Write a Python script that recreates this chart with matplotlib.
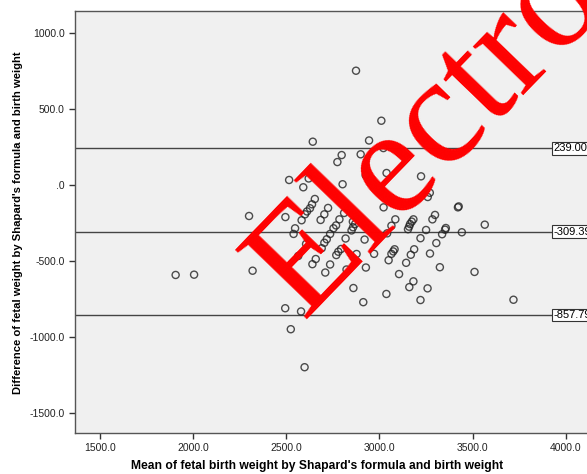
import matplotlib
matplotlib.use("Agg")
import matplotlib.pyplot as plt

# mean of the two methods (g) and their difference (g)
mean_wt = [2874, 3010, 2642, 2944, 3021, 2797, 2774, 2899, 3038, 2926,
           3223, 2515, 2620, 2591, 2802, 3270, 3259, 2653, 2638, 2627,
           2611, 2600, 2724, 2704, 2684, 2300, 2495, 2582, 2810, 2785,
           2767, 2753, 2735, 2717, 2704, 2690, 3022, 3421, 3425, 3298,
           3284, 3182, 3173, 3164, 3159, 3153, 3085, 2869, 2858, 2850,
           3250, 3356, 3352, 3336, 3442, 3565, 3064, 3041, 3220, 2920,
           3305, 2818, 2606, 2547, 2539, 2794, 2779, 2768, 2877, 2971,
           3081, 3074, 3064, 3049, 3186, 3168, 3271, 3143, 2564, 2658,
           2640, 2735, 2709, 2823, 2927, 3324, 3105, 2319, 3182, 3160,
           3510, 2860, 3258, 3037, 2913, 3220, 3719, 2494, 2579, 2524,
           2598, 1906, 2005, 2857]
diff_wt = [750, 421, 283, 291, 241, 195, 149, 200, 77, 62,
           55, 31, 41, -17, 3, -53, -81, -94, -129, -155,
           -176, -195, -153, -195, -232, -206, -213, -234, -186, -228,
           -268, -287, -324, -359, -382, -418, -149, -149, -143, -199,
           -228, -228, -243, -259, -276, -293, -228, -259, -280, -301,
           -298, -285, -296, -326, -313, -263, -270, -320, -352, -361,
           -384, -354, -390, -287, -324, -423, -441, -463, -456, -455,
           -425, -439, -455, -497, -425, -461, -453, -514, -469, -489,
           -523, -525, -578, -558, -545, -543, -588, -566, -636, -674,
           -574, -680, -682, -719, -773, -759, -757, -813, -834, -951,
           -1201, -594, -592, -243]

# mean difference and 95% limits of agreement
ref_lines = [239.007, -309.393, -857.793]
ref_labels = ["239.007", "-309.393", "-857.793"]

x_ticks = [1500, 2000, 2500, 3000, 3500, 4000]
y_ticks = [1000, 500, 0, -500, -1000, -1500]
y_tick_labels = ["1000.0", "500.0", ".0", "-500.0", "-1000.0", "-1500.0"]
x_tick_labels = ["1500.0", "2000.0", "2500.0", "3000.0", "3500.0", "4000.0"]

plt.rcParams['font.family'] = ['Liberation Sans', 'DejaVu Sans']

fig = plt.figure(figsize=(5.87, 4.74), dpi=100)
# axes runs off the right edge, like the cropped original
ax = fig.add_axes([0.1278, 0.0871, 0.9285, 0.8897])
ax.set_facecolor('#f0f0f0')

ax.scatter(mean_wt, diff_wt, s=26, facecolors='none', edgecolors='#222222',
           linewidths=1.0, alpha=0.8, zorder=3)

for val, lab in zip(ref_lines, ref_labels):
    ax.axhline(val, color='#444444', lw=1.0, zorder=2)
    ax.text(3935, val, lab, fontsize=8, ha='left', va='center', zorder=4,
            clip_on=False,
            bbox=dict(boxstyle='square,pad=0.12', fc='white', ec='#333333', lw=0.8))

ax.set_xlim(1366, 4291)
ax.set_ylim(-1632, 1143)
ax.set_xticks(x_ticks)
ax.set_xticklabels(x_tick_labels)
ax.set_yticks(y_ticks)
ax.set_yticklabels(y_tick_labels)
ax.tick_params(direction='out', length=4, width=1, labelsize=7.5,
               colors='#333333', labelcolor='#222222')
for sp in ax.spines.values():
    sp.set_color('#555555')
    sp.set_linewidth(1.0)

ax.set_xlabel("Mean of fetal birth weight by Shapard's formula and birth weight",
              fontsize=8.7, fontweight='bold')
ax.set_ylabel("Difference of fetal weight by Shapard's formula and birth weight",
              fontsize=8.1, fontweight='bold')
ax.xaxis.set_label_coords((317 - 75) / 545, -(460 - 432.7) / 421.7)
ax.yaxis.set_label_coords(-(75 - 23) / 545, 1 - (223 - 11) / 421.7)

# red watermark over the plot
fig.text(303 / 587, 1 - 319 / 474, "Electronic", fontsize=110,
         fontfamily='Liberation Serif', color='red',
         rotation=46, rotation_mode='anchor', ha='left', va='baseline', zorder=10)

fig.savefig("out.png", dpi=100)
